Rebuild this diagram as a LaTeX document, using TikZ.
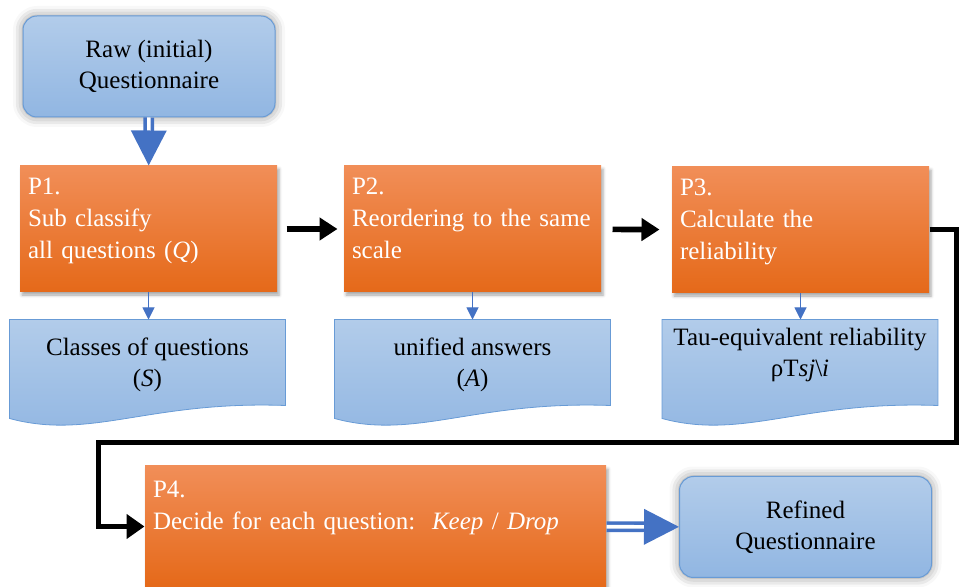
\documentclass[tikz,border=0pt]{standalone}
\usepackage{fontspec}
\setmainfont{Liberation Serif}
\usetikzlibrary{arrows.meta,shadows.blur,backgrounds}
\definecolor{bluetop}{RGB}{178,204,234}
\definecolor{bluebot}{RGB}{145,182,226}
\definecolor{blueline}{RGB}{104,155,214}
\definecolor{arrowblue}{RGB}{68,114,196}
\definecolor{orangetop}{RGB}{241,142,88}
\definecolor{orangebot}{RGB}{229,105,25}
\tikzset{
every picture/.style={
line width=0.5pt
}}

\begin{document}
\begin{tikzpicture}[x=0.5pt, y=-0.5pt,
txt/.style = {font=\fontsize{12.5}{15.5}\selectfont},
start/.style = {rectangle, rounded corners=7pt, draw=blueline, top color=bluetop, bottom color=bluebot, minimum width=126pt, minimum height=50.5pt, align=center, txt, blur shadow={shadow xshift=0pt, shadow yshift=0pt, shadow blur radius=5pt, shadow opacity=45}},
proc/.style = {rectangle, top color=orangetop, bottom color=orangebot, text=white, inner xsep=4pt, inner ysep=0pt, text width=120.5pt, minimum height=63pt, align=left, font=\fontsize{12.5}{16}\selectfont, blur shadow={shadow xshift=1pt, shadow yshift=-1.5pt, shadow blur radius=1.5pt, shadow opacity=35}},
doc/.style = {rectangle, minimum width=137.5pt, minimum height=42.5pt, align=center, txt},
note/.style = {draw=arrowblue, -{Triangle[width=6pt,length=6pt]}},
flow/.style = {line width=2.8pt, -{Triangle[width=11pt,length=9pt]}},
big/.style = {draw=arrowblue, double=white, double distance=1.8pt, line width=1.8pt, -{Triangle[width=17.5pt,length=17.5pt]}}]
\useasboundingbox (0,0) rectangle (959,587);

\node[start] at (149,66.5) (raw) {Raw (initial)\\Questionnaire};
\node[proc, text depth=43pt] at (148.5,229) (p1) {P1.\\Sub classify\\all questions (\textit{Q})};
\node[proc, text depth=43pt] at (472.5,229) (p2) {P2.\\Reordering to the same\\scale};
\node[proc, text depth=43pt] at (800.5,230) (p3) {P3.\\Calculate the\\reliability};
\node[proc, text width=222.5pt, minimum height=60.5pt, text depth=37pt] at (375.5,526.5) (p4) {P4.\\Decide for each question:\ \ \textit{Keep} / \textit{Drop}};
\node[start] at (805.5,527) (ref) {Refined\\Questionnaire};

\node[doc, text depth=-4pt] at (147.5,362.5) (d1) {Classes of questions\\(\textit{S})};
\node[doc, text depth=-4pt] at (472.5,362.5) (d2) {unified answers\\(\textit{A})};
\node[doc, text depth=10pt] at (800,362.5) (d3) {Tau-equivalent reliability\\ρT\textit{sj}\textbackslash\textit{i}};

% wavy document shapes behind the texts
\begin{scope}[on background layer]
\foreach \d in {d1,d2,d3}
\draw[blueline, top color=bluetop, bottom color=bluebot] (\d.north west) -- (\d.north east) -- (\d.south east) .. controls +(-137,-5) and +(82,22) .. ([yshift=-6.5pt]\d.south west) -- cycle;
\end{scope}

\draw [big] (raw) -- (p1);
\draw [big] (p4) -- (ref);
\draw [note] (p1.south) -- (p1.south |- d1.north);
\draw [note] (p2.south) -- (p2.south |- d2.north);
\draw [note] (p3.south) -- (p3.south |- d3.north);
\draw [flow, shorten <=4.5pt, shorten >=3pt] (p1) -- (p2);
\draw [flow, shorten <=5.5pt, shorten >=6pt] (p2) -- (p3);

\coordinate (c1) at (956.5,443);
\coordinate (c2) at (98,443);
\draw [line width=2.5pt, -{Triangle[width=12pt,length=9pt]}] (p3.east) -| (c1) -- (c2) |- (p4.west);
\end{tikzpicture}
\end{document}
